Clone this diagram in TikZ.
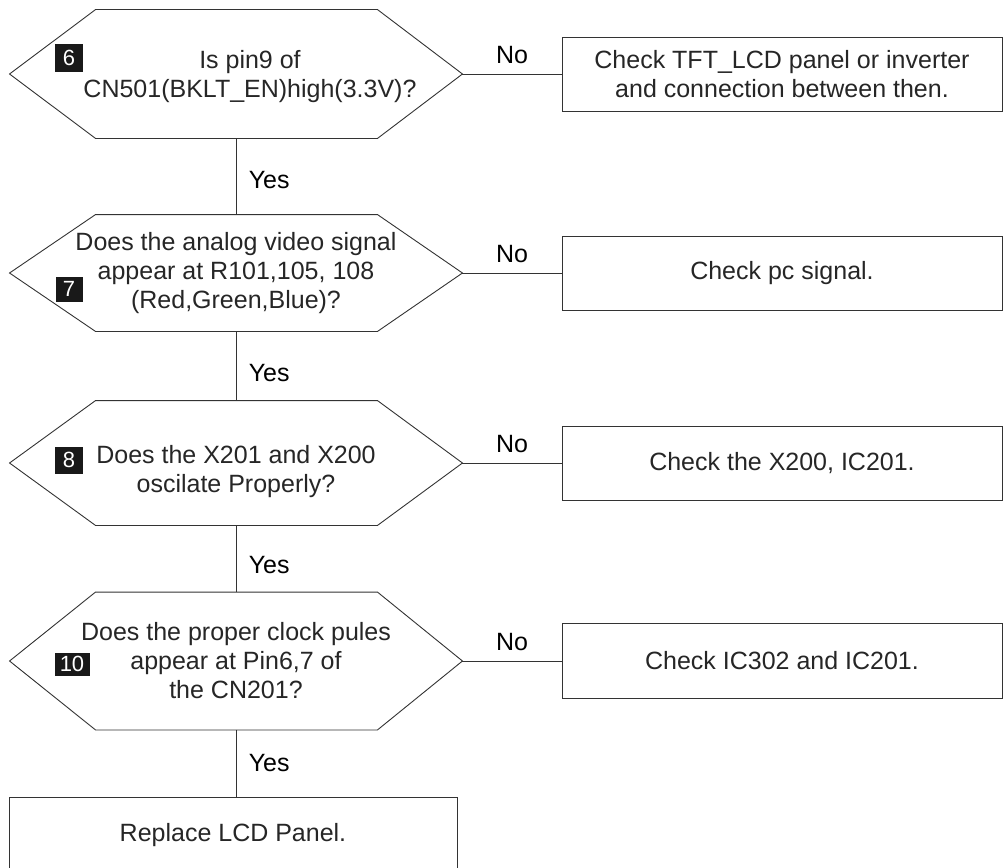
\documentclass[tikz,border=0pt]{standalone}
\usepackage{fontspec}
\setmainfont{Liberation Sans}
\usetikzlibrary{calc}

\tikzset{
  hexq/.style={minimum width=452pt, inner sep=0pt, align=center, text=black!85},
  hext/.style={inner sep=0pt, align=center, text=black!85},
  chk/.style={draw, minimum width=440pt, minimum height=74pt, inner sep=0pt, align=center, text=black!85},
  num/.style={fill=black!90, text=white, inner sep=0pt, font=\fontsize{22}{22}\selectfont},
}

\begin{document}
\begin{tikzpicture}[x=1pt, y=-1pt, line width=0.9pt, draw=black!80,
  font=\fontsize{25}{29}\selectfont]
  \useasboundingbox (0,0) rectangle (1006,867);
  \node[hexq, minimum height=128pt,
    label={[hext, xshift=14pt, yshift=-3pt]center:Is pin9 of\\CN501(BKLT\_EN)high(3.3V)?}] (q1) at (236,74) {};
  \node[hexq, minimum height=116pt] (q2) at (236,273) {Does the analog video signal\\appear at R101,105, 108\\(Red,Green,Blue)?};
  \node[hexq, minimum height=124pt,
    label={[hext, yshift=-9pt]center:Does the X201 and X200\\oscilate Properly?}] (q3) at (236,463) {};
  \node[hexq, minimum height=137pt] (q4) at (236,661) {Does the proper clock pules\\appear at Pin6,7 of\\the CN201?};
  \node[num, minimum width=28pt, minimum height=27pt] (n6) at (69,58) {6};
  \node[num, minimum width=27pt, minimum height=25pt] (n7) at (69,289) {7};
  \node[num, minimum width=28pt, minimum height=27pt] (n8) at (69,460) {8};
  \node[num, minimum width=35pt, minimum height=23pt] (n10) at (72,664) {10};
  \node[chk] (c1) at (782,74) {Check TFT\_LCD panel or inverter\\and connection between then.};
  \node[chk] (c2) at (782,273) {Check pc signal.};
  \node[chk] (c3) at (782,463) {Check the X200, IC201.};
  \node[chk, minimum height=75pt] (c4) at (782,661) {Check IC302 and IC201.};
  \node[chk, minimum width=448pt, minimum height=76pt] (r) at (233,835) {Replace LCD Panel.};
  \foreach \q in {q1,q2,q3,q4}
    \draw (\q.west) -- ($(\q.north west)+(86,0)$) -- ($(\q.north east)+(-85,0)$) -- (\q.east)
      -- ($(\q.south east)+(-85,0)$) -- ($(\q.south west)+(86,0)$) -- cycle;
  \draw (q1.east) -- (c1.west) node[midway, above=6pt] {No};
  \draw (q2.east) -- (c2.west) node[midway, above=6pt] {No};
  \draw (q3.east) -- (c3.west) node[midway, above=6pt] {No};
  \draw (q4.east) -- (c4.west) node[midway, above=6pt] {No};
  \draw (q1.south) -- (q2.north) node[pos=.55, right=9pt] {Yes};
  \draw (q2.south) -- (q3.north) node[pos=.6, right=9pt] {Yes};
  \draw (q3.south) -- (q4.north) node[pos=.6, right=9pt] {Yes};
  \draw (q4.south) -- (q4.south |- r.north) node[pos=.5, right=9pt] {Yes};
\end{tikzpicture}
\end{document}
